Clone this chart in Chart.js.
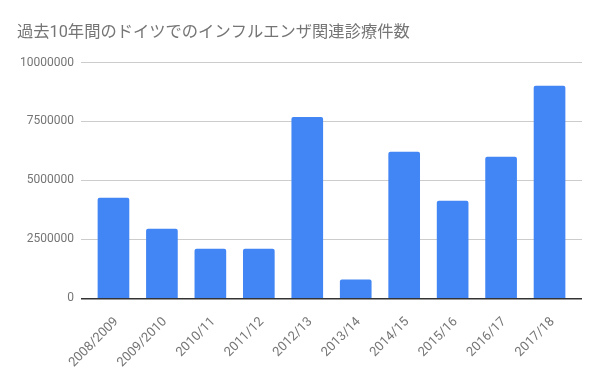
<!DOCTYPE html>
<html>
<head>
<meta charset="utf-8">
<script src="https://cdn.jsdelivr.net/npm/chart.js@4"></script>
<style>
  html, body { margin: 0; padding: 0; background: #fff; }
  #wrap { width: 600px; height: 371px; }
</style>
</head>
<body>
<div id="wrap"><canvas id="chart"></canvas></div>
<script>
const seasons = ['2008/2009', '2009/2010', '2010/11', '2011/12', '2012/13', '2013/14', '2014/15', '2015/16', '2016/17', '2017/18'];
const visits = [4250000, 2940000, 2090000, 2090000, 7680000, 780000, 6200000, 4120000, 5990000, 9000000];
const yMax = 10000000;
const yStep = 2500000;

const titleText = '過去10年間のドイツでのインフルエンザ関連診療件数';
const textColor = '#757575';

const chart = new Chart(document.getElementById('chart'), {
  type: 'bar',
  data: {
    datasets: [{
      data: visits.map((v, i) => ({ x: i, y: v })),
      backgroundColor: '#4285f4',
      borderRadius: 2,
      borderSkipped: 'bottom',
      barThickness: 31
    }]
  },
  options: {
    responsive: true,
    maintainAspectRatio: false,
    animation: false,
    layout: { padding: { left: 17, right: 18, top: 0, bottom: 0 } },
    plugins: {
      legend: { display: false },
      tooltip: { enabled: false },
      title: {
        display: true,
        text: titleText,
        align: 'start',
        color: textColor,
        font: { family: 'Roboto, "Noto Sans CJK JP"', size: 16.3, weight: 'normal' },
        padding: { top: 23, bottom: 20 }
      }
    },
    scales: {
      x: {
        type: 'linear',
        offset: false,
        min: -0.67,
        max: seasons.length - 1 + 0.67,
        afterBuildTicks: (scale) => { scale.ticks = seasons.map((_, i) => ({ value: i })); },
        afterFit: (scale) => { scale.height = 72.7; },
        grid: { display: false, offset: false },
        border: { display: false },
        ticks: {
          autoSkip: false,
          maxRotation: 45,
          minRotation: 45,
          padding: 8,
          labelOffset: 3,
          color: textColor,
          font: { family: 'Roboto', size: 13 },
          callback: (v) => seasons[v]
        }
      },
      y: {
        min: 0,
        max: yMax,
        afterFit: (scale) => { scale.width = 64; },
        border: { display: false },
        grid: {
          drawTicks: false,
          color: (ctx) => ctx.tick.value === 0 ? '#333333' : '#cccccc',
          lineWidth: (ctx) => ctx.tick.value === 0 ? 1.5 : 1
        },
        ticks: {
          stepSize: yStep,
          padding: 7,
          color: textColor,
          font: { family: 'Roboto', size: 12 },
          callback: (v) => String(v)
        }
      }
    }
  }
});
</script>
</body>
</html>
